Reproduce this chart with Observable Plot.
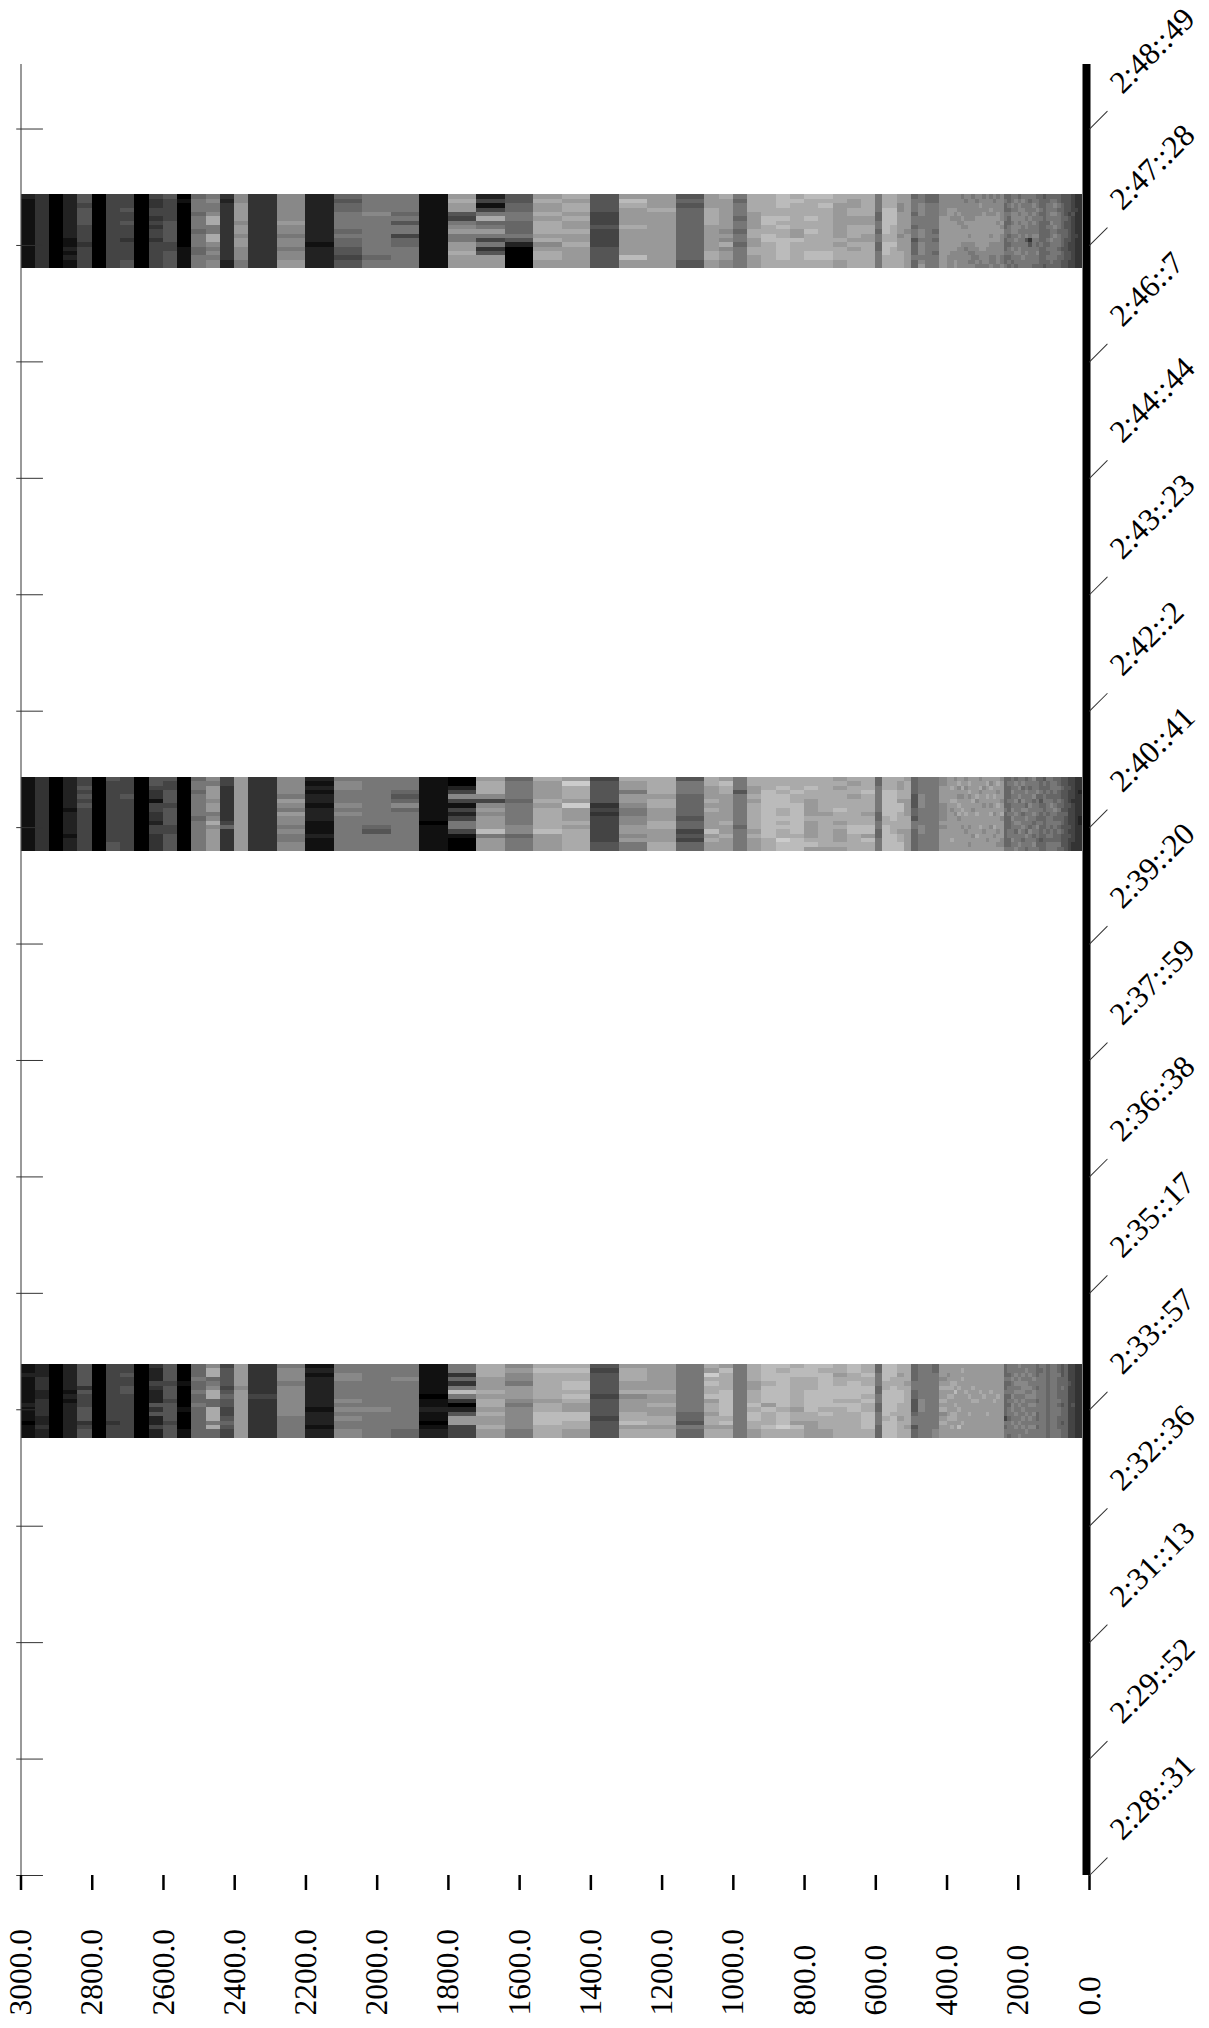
<!DOCTYPE html>
<html><head><meta charset="utf-8">
<style>html,body{margin:0;padding:0;background:#fff;overflow:hidden}svg{display:block}svg text{text-rendering:geometricPrecision}</style>
<script src="https://cdn.jsdelivr.net/npm/d3@7"></script>
<script src="https://cdn.jsdelivr.net/npm/@observablehq/plot@0.6"></script>
</head><body><div id="chart"></div>
<script>
const xTicks=[3000,2800,2600,2400,2200,2000,1800,1600,1400,1200,1000,800,600,400,200,0];
const timeLabels=["2:48::49","2:47::28","2:46::7","2:44::44","2:43::23","2:42::2","2:40::41","2:39::20","2:37::59","2:36::38","2:35::17","2:33::57","2:32::36","2:31::13","2:29::52","2:28::31"];
const timeTicks=[10129,10047.8,9966.6,9885.4,9804.2,9723,9641.8,9560.6,9479.4,9398.2,9317,9235.8,9154.6,9073.4,8992.2,8911];
const bandStarts=[10083,9676.7,9267.4];
const rowSeconds=3.036;
const colWidths=[40,40,40,40,40,40,40,40,40,40,40,40,40,40,40,40,40,40,40,40,40,40,40,40,40,40,40,40,40,40,40,40,40,40,40,40,40,40,40,40,40,40,40,40,40,40,40,40,40,40,40,40,40,40,40,40,40,40,40,40,
20,20,20,20,20,20,20,20,20,20,
10,10,10,10,10,10,10,10,10,10,10,10,10,10,10,10,10,10,10,10,10,10,10,10,10,10,10,10,10,10,10,10,10,10,10,10,10,10];
const band1=["21111111111111111","33333333333333333","00000000000000000","22222222221121211","55455554444344444","00000000000000000","44444444444444444","44454454443444455","00000000000000000","43344343443444444","54444455555445555","01000000000011111","67776777677766777","78778aa77aa878788","32333333333333322","88999989989988877","33333333333333333","33333333333333333","88888898878878899","88888898878878899","22222222222122222","22222222222122222","65667777676655455","65667777676655455","77778777777777677","77778777777777677","77776757746677777","77776757746677777","11111111111111111","11111111111111111","9a99547897799a999","9a99547897799a999","24147a67974735999","24147a67974735999","55667766675200000","55667766675200000","9a99a9aaa9a89aa99","9a99a9aaa9a89aa99","a9aa9a99a99a99999","a9aa9a99a99a99999","55554445444455555","55554445444455555","9ba9999a999999b99","9ba9999a999999b99","999a9999999999999","999a9999999999999","56566666666666655","56566666666666655","999aaaa999999aa99","a9999999898a89988","76777677677677777","aaaa9999aa99aa999","aaaaabbaabbaaaaaa","bbbaababaabbbbbaa","abaaaaaa99baaaaaa","baaaabaabaaaabbaa","babaaaaaaaaaabbaa","aa99999999a9aaa99","a99aa99aaa9a9aaaa","aaaaa99aa99aaaaaa",
"77776677677667777","aaabbbbbbaabbbaaa","aaabbbbaaaabaaaaa","9988999998999aaaa","99999999899999999","67776776775666766","77888777887888789","66777777777777777","66777777676776777","88888999999999999",
"88899999999999888","88899899999998888","88898899999998899","88889889999988888","78888988999888888","87888898999878888","88888899989887878","78888899999887778","87888999999988787","88988999999998877","78889999999998887","88888999999988887","78898999989888778","87888999999888777","78889989999888887","88888898988888778","67667766776667667","66767667767677676","77878878877787767","78778888878778776","67887878787788777","78788887777777877","77778788785778777","76777877773577777","77878787787777776","67787777787678776","66676766666766666","56666666666666665","66777767667676766","67778787778777776","67878778787777766","66767777677767666","55666666666656655","55555655665555555","55554555555445544","44445444444444444","33343333343333333","33333333333333333"];
const band2=["11111111111111111","33333333333333333","00000000000000000","22222221222221222","44545454444444444","00000000000000000","54444444444444455","44445444444444444","00000000000000000","55433144332443333","54455545555445555","00000000000000000","67767777767777777","8799989978a899999","44333333334633333","99999999999999999","33333333333333333","33333333333333333","88887987988787788","88887987988787788","21212212221112111","21212212221112111","78877787877777777","78877787877777777","77777777777657777","77777777777657777","77765686777777777","77765686777777777","11111111110111111","11111111110111111","00248414247741000","00248414247741000","9aaa84898999b7999","9aaa84898999b7999","67777677777886777","67777677777886777","a9999a9aaaaab9999","a9999a9aaaaab9999","9caaa9c999a9aaaaa","9caaa9c999a9aaaaa","45555534344444455","45555534344444455","a9979987788998977","a9979987788998977","aaaa9aa999aa999aa","aaaa9aa999aa999aa","57776666656645466","57776666656645466","aa999a9a9999b9a99","9baa999999a99a999","77757777777677777","aa99a9aaaaaa9a999","aaabbbbbbbbbbbaaa","aababbbaababaacbb","aaabaabbbbbbbabbb","aabaa9999a9999ab9","aaaaaaaa9aaaaaaa9","9a9aaaabaa9a999a9","a9aa9aaaaaabbaaaa","aaabaaaa9aabb9baa",
"66777777667766777","aaabbbbbbaabbbbbb","aaabbbbbbbaaabbbb","a99aa9bbaaaa9aabb","9aaaa9999aaa99999","66665556657766666","77778887777887777","77777777777777777","77777777777777777","88999988889899999",
"99999999999999999","99a99a98999999a99","89999a99899999999","9a8989a9a89999999","99a9899a999899999","89899999a99989999","9a9a8999999899989","99999a98999998999","9999a899a9999a999","89a89999999a99999","99899989999989999","9a99a999999999899","98a99989a99899999","9999a999899a98999","9a9899a9999989989","89999899a89999889","66666667666666667","67666766766677667","77787778787777877","68777877878767778","77878677778787787","78677878677877677","67787768787768776","77677787777687777","87778677876776787","67786777767877667","66676567667666566","57667766766676666","76676777677767677","77766787777677677","67776678767766677","66766767667676676","55655665666565556","55555555655555555","44544454444545444","44444344444444433","33333333333333333","33323333322333333"];
const band3=["11211111121110111","22233322333322322","00000000000000000","22222212122222222","55555354445553455","00000000000000000","44444444444443444","44544554444444444","00000000000000000","32224322253522422","55554555455554555","00001000001000011","66676676676666666","8aa678aa66aaa7a66","45555456554456544","99999899999999999","33333334333333333","33333334333333333","78887888888877777","78887888888877777","12122222221222122","12122222221222122","77887777878787788","77887777878787788","77777777778777777","77777777778777777","77787777777777766","77787777777777766","11111110112110122","11111110112110122","773637b7302599444","773637b7302599444","aaa999a9aa9a99a99","aaa999a9aa9a99a99","89887999878888877","89887999878888877","abaaaaaa9aabbbaaa","abaaaaaa9aabbbaaa","abaabbaba99bbaa99","abaabbaba99bbaa99","54555554555545555","54555554555545555","9aaa99a8999aab9aa","9aaa99a8999aab9aa","999999a99a99aa9aa","999999a99a99aa9aa","77777777777665766","77777777777665766","a9cabaab9aa9aa9aa","9baaaabbbbbbab9aa","77777777777777777","aaaa99aaababbaa99","bbbbabbbb9baaabaa","babbbbbbbbabbbcaa","abbaaaaaaa9aa9baa","bbbaaabbbbbaa9999","babbbbbbbbabaaa99","aa9aabbbabaaaaaaa","bbaabbbbabbaaaaaa","aabaabbabaabbbbaa",
"66777667766777666","bbbbaabbbbbbabbbb","bbbaabbbbbbabbbbb","aa9aaabbbaaa9aaaa","aaaa9aaaaaaaaa9aa","66667766555677566","77777777888777777","77777777777777777","66777777777777788","99989a99a9a89a999",
"99899a9a9999a9999","9999aa9a999aa9a99","9999a9b99a9aa9999","99999a9999a999b99","9a9a999999999a999","999999a9999999999","9999999a999a99999","99999a99a99999999","99999999a99999999","999999a9999999999","9999999a999999999","99999999999a99999","999999a9999999999","99999999a99999999","9999999a999999999","99999999999999999","66676676666647677","77676776767767776","77787778788778777","77878787877877877","87788787787778778","77878887878787877","78778878777877787","77877878787787877","77787788787877877","66677677677667677","76777777777777777","77777777777777777","66666666666666666","77777777777777777","77777777777777777","66766666767766677","55566766656665666","66666666666666666","44445444444444444","44444444454444444","33333333333333333","33333333333333333"];

const bands=[band1,band2,band3];
const cells=[];
bands.forEach((band,b)=>{
  let hi=3000;
  band.forEach((column,c)=>{
    const lo=hi-colWidths[c];
    [...column].forEach((digit,r)=>{
      const g=digit+digit;
      cells.push({x1:hi,x2:lo,y1:bandStarts[b]-r*rowSeconds,y2:bandStarts[b]-(r+1)*rowSeconds,fill:`#${g}${g}${g}`});
    });
    hi=lo;
  });
});
const serifFont="Liberation Serif";
const chart=Plot.plot({
  width:1209,height:2028,
  marginLeft:20.5,marginRight:120,marginTop:64,marginBottom:153,
  x:{domain:[3000,0],axis:null},
  y:{domain:[8911,10174],axis:null},
  marks:[
    Plot.rect(cells,{x1:"x1",x2:"x2",y1:"y1",y2:"y2",fill:"fill",shapeRendering:"crispEdges"}),
    Plot.ruleX([3000],{stroke:"#555",strokeWidth:1.2}),
    Plot.ruleX([0],{stroke:"#000",strokeWidth:8,dx:-3}),
    Plot.ruleY(timeTicks,{x1:3012,x2:2937,stroke:"#333",strokeWidth:1}),
    Plot.axisX(xTicks,{anchor:"bottom",tickSize:15,text:null,tickFormat:()=>"",label:null,stroke:"#000",strokeWidth:2.5}),
    Plot.vector(timeTicks,{x:0,y:d=>d,rotate:45,length:25,anchor:"start",stroke:"#333",strokeWidth:1,
      shape:{draw(ctx,l){ctx.moveTo(0,0);ctx.lineTo(0,-l);}}}),
    Plot.text(xTicks,{x:d=>d,frameAnchor:"bottom",dy:140,rotate:-90,textAnchor:"start",lineAnchor:"middle",
      text:d=>d.toFixed(1),fontSize:31.5,fontFamily:serifFont,fill:"#000"}),
    Plot.text(timeTicks,{x:0,y:d=>d,dx:33,dy:-34,rotate:-45,textAnchor:"start",lineAnchor:"bottom",
      text:(d,i)=>timeLabels[i],fontSize:31.5,fontFamily:serifFont,fill:"#000"})
  ]
});
document.getElementById("chart").append(chart);
</script></body></html>
